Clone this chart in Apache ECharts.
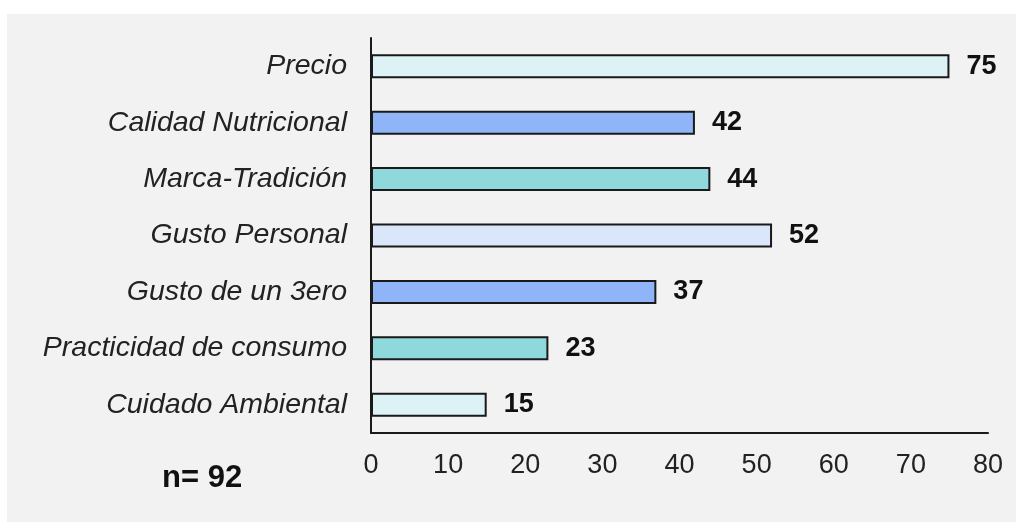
<!DOCTYPE html>
<html>
<head>
<meta charset="utf-8">
<script src="https://cdn.jsdelivr.net/npm/echarts@6/dist/echarts.min.js"></script>
<style>
  html, body { margin: 0; padding: 0; background: #ffffff; }
  #chart { width: 1016px; height: 522px; }
</style>
</head>
<body>
<div id="chart"></div>
<script>
// data, top to bottom as in the picture
const categories = [
  "Precio",
  "Calidad Nutricional",
  "Marca-Tradición",
  "Gusto Personal",
  "Gusto de un 3ero",
  "Practicidad de consumo",
  "Cuidado Ambiental",
];
const values = [75, 42, 44, 52, 37, 23, 15];
const xTicks = [0, 10, 20, 30, 40, 50, 60, 70, 80];
const sampleNote = "n= 92";

// bar fills, same order as categories
const barColors = ["#dcf2f4", "#8fb4f8", "#8fd8dc", "#dae6fa", "#8fb4f8", "#8fd8dc", "#dcf2f4"];

const fontFamily = "'Liberation Sans', Arial, sans-serif";
const chart = echarts.init(document.getElementById("chart"));

const option = {
  backgroundColor: "#ffffff",
  animation: false,
  graphic: [
    {
      type: "rect",
      z: -10,
      shape: { x: 7, y: 14, width: 1009, height: 508 },
      style: { fill: "#f2f2f2" },
    },
    {
      type: "text",
      left: 162,
      top: 463,
      style: {
        text: sampleNote,
        font: "bold 31px " + fontFamily,
        fill: "#111111",
      },
    },
  ],
  grid: {
    left: 371,
    right: 28,
    top: 38,
    bottom: 89,
    containLabel: false,
  },
  xAxis: {
    type: "value",
    min: xTicks[0],
    max: xTicks[xTicks.length - 1],
    interval: xTicks[1] - xTicks[0],
    axisLine: { show: true, lineStyle: { color: "#1a1a1a", width: 2 } },
    axisTick: { show: false },
    splitLine: { show: false },
    axisLabel: {
      margin: 19,
      fontFamily: fontFamily,
      fontSize: 27,
      color: "#222222",
    },
  },
  yAxis: {
    type: "category",
    inverse: true,
    data: categories,
    axisLine: { show: true, lineStyle: { color: "#1a1a1a", width: 2 } },
    axisTick: { show: false },
    axisLabel: {
      margin: 24,
      fontFamily: fontFamily,
      fontSize: 28.5,
      fontStyle: "italic",
      color: "#222222",
    },
  },
  series: [
    {
      type: "bar",
      barWidth: 24,
      data: values.map((v, i) => ({
        value: v,
        itemStyle: { color: barColors[i] },
      })),
      itemStyle: {
        borderColor: "#1a1a1a",
        borderWidth: 2,
      },
      label: {
        show: true,
        position: "right",
        distance: 17,
        fontFamily: fontFamily,
        fontSize: 27,
        fontWeight: "bold",
        color: "#111111",
      },
    },
  ],
};

chart.setOption(option);
</script>
</body>
</html>
